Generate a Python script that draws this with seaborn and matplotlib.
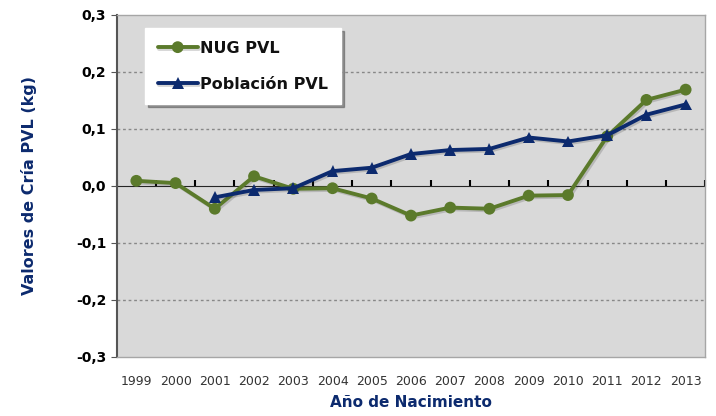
import pandas as pd
import seaborn as sns
import matplotlib.pyplot as plt
import matplotlib.patheffects as pe
import numpy as np

# data
years = [str(y) for y in range(1999, 2014)]
nug_pvl = [0.009, 0.005, -0.040, 0.017, -0.005, -0.004, -0.022, -0.052,
           -0.038, -0.040, -0.017, -0.016, 0.087, 0.151, 0.169]
poblacion_pvl = [np.nan, np.nan, -0.020, -0.007, -0.004, 0.026, 0.032, 0.056,
                 0.063, 0.065, 0.085, 0.078, 0.089, 0.125, 0.143]
y_ticks = [-0.3, -0.2, -0.1, 0.0, 0.1, 0.2, 0.3]

df = pd.DataFrame({
    "x": list(range(len(years))) * 2,
    "valor": nug_pvl + poblacion_pvl,
    "serie": ["NUG PVL"] * len(years) + ["Población PVL"] * len(years),
})

sns.set_style("white")
plt.rcParams["font.family"] = ["DejaVu Sans"]

fig = plt.figure(figsize=(7.16, 4.16), dpi=100)
ax = fig.add_axes([0.163, 0.142, 0.822, 0.822])
ax.set_facecolor("#d9d9d9")

green = "#5b7a2b"
navy = "#0c2a6e"
shadow = [pe.SimpleLineShadow(offset=(1.2, -1.2), alpha=0.2, shadow_color="#333333"), pe.Normal()]

sns.lineplot(data=df, x="x", y="valor", hue="serie", style="serie",
             palette={"NUG PVL": green, "Población PVL": navy},
             markers={"NUG PVL": "o", "Población PVL": "^"},
             dashes=False, markersize=8.5, linewidth=2.8, markeredgewidth=0,
             ax=ax, legend=True)
for ln in ax.lines:
    ln.set_path_effects(shadow)

ax.set_xlim(-0.5, len(years) - 0.5)
ax.set_ylim(-0.3, 0.3)
ax.set_yticks(y_ticks)
ax.set_yticklabels([f"{v:.1f}".replace(".", ",") for v in y_ticks],
                   fontsize=10, fontweight="bold", color="black")
ax.set_xticks(range(len(years)))
ax.set_xticklabels(years, fontsize=9, color="#333333")
ax.tick_params(axis="x", length=0, pad=13)
ax.tick_params(axis="y", length=4, direction="out", color="#555555", left=True)

for v in [-0.2, -0.1, 0.1, 0.2]:
    ax.axhline(v, color="#888888", linestyle=(0, (2, 2)), linewidth=1, zorder=0.5)

for side in ["top", "right", "bottom"]:
    ax.spines[side].set_color("#a6a6a6")
    ax.spines[side].set_linewidth(1)
ax.spines["left"].set_color("#555555")
ax.spines["left"].set_linewidth(1.5)

# category axis crossing at zero with boundary ticks
sec = ax.secondary_xaxis(0.5)
sec.set_xticks(np.arange(-0.5, len(years), 1.0))
sec.set_xticklabels([])
sec.tick_params(axis="x", length=4, width=1.5, color="black", direction="out")
sec.spines["bottom"].set_linewidth(2)
sec.spines["bottom"].set_color("black")

ax.set_xlabel("Año de Nacimiento", fontsize=11, fontweight="bold", color=navy, labelpad=5)
ax.set_ylabel("Valores de Cría PVL (kg)", fontsize=11.5, fontweight="bold", color=navy, labelpad=28)

leg = ax.legend(loc="upper left", bbox_to_anchor=(0.048, 0.962), frameon=True,
                fancybox=False, shadow=True, fontsize=11.5, handlelength=2.5,
                borderpad=0.8, labelspacing=1.3, handletextpad=0.15, borderaxespad=0)
leg.get_frame().set_facecolor("white")
leg.get_frame().set_edgecolor("white")
for t in leg.get_texts():
    t.set_fontweight("bold")
    t.set_color("#111111")

fig.savefig("out.png", dpi=100)
